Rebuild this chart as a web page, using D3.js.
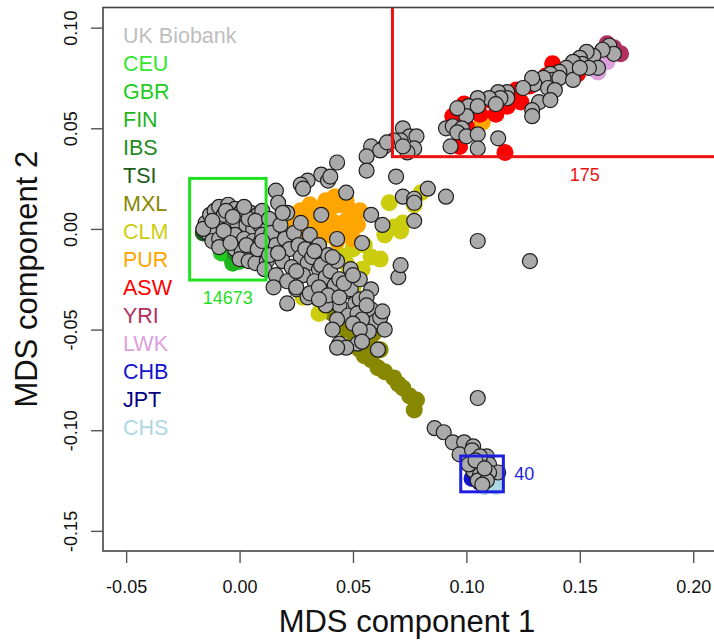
<!DOCTYPE html>
<html>
<head>
    <meta charset="utf-8">
    <style>
        body {
            margin: 0;
            background: white;
        }

        svg {
            font-family: 'Liberation Sans', Arial, sans-serif;
            display: block;
        }
    </style>
    <title>MDS components</title>
</head>

<body>
    <svg width="714" height="641"></svg>
</body>

<script src="https://d3js.org/d3.v7.min.js"></script>
<script>
    // reference panels, [MDS1, MDS2]
    let CEU = [[-0.006, -0.010], [-0.010, -0.004]]
    let GBR = [[-0.004, -0.014], [-0.008, -0.012]]
    let FIN = [[0.000, -0.016], [-0.003, -0.017]]
    let IBS = [[-0.002, -0.012], [0.002, -0.013]]
    let TSI = [[-0.016, -0.002], [0.003, -0.015]]
    let MXL = [[0.035, -0.035], [0.038, -0.040], [0.041, -0.042], [0.044, -0.044], [0.047, -0.045], [0.047, -0.050],
        [0.051, -0.053], [0.053, -0.049], [0.059, -0.052], [0.058, -0.058], [0.055, -0.063], [0.058, -0.065],
        [0.061, -0.069], [0.064, -0.071], [0.068, -0.074], [0.070, -0.077], [0.072, -0.079], [0.075, -0.083],
        [0.078, -0.085], [0.077, -0.090], [0.049, -0.058], [0.053, -0.060], [0.062, -0.060]]
    let CLM = [[0.066, 0.013], [0.072, 0.003], [0.068, 0.001], [0.058, -0.014], [0.050, -0.010], [0.047, -0.017],
        [0.047, -0.024], [0.041, -0.034], [0.080, 0.018], [0.071, -0.001], [0.062, -0.015], [0.054, -0.020],
        [0.040, -0.029], [0.028, -0.034], [0.035, -0.042], [0.050, -0.029], [0.064, -0.003], [0.077, 0.012],
        [0.055, -0.008], [0.044, -0.013]]
    let PUR = [[0.024, 0.007], [0.027, 0.009], [0.031, 0.012], [0.035, 0.008], [0.040, 0.010], [0.044, 0.012],
        [0.049, 0.009], [0.051, 0.007], [0.047, 0.004], [0.042, 0.003], [0.038, 0.002], [0.033, 0.003],
        [0.029, 0.002], [0.027, -0.003], [0.031, -0.005], [0.035, -0.002], [0.040, -0.003], [0.044, -0.001],
        [0.049, 0.000], [0.052, 0.002], [0.053, 0.009], [0.047, 0.014], [0.042, 0.016], [0.038, 0.014],
        [0.032, 0.007], [0.024, 0.002], [0.028, -0.007], [0.035, -0.008], [0.043, -0.006], [0.050, -0.005],
        [0.107, 0.053]]
    let ASW = [[0.094, 0.056], [0.097, 0.041], [0.110, 0.064], [0.122, 0.069], [0.124, 0.063], [0.118, 0.061],
        [0.138, 0.082], [0.149, 0.077], [0.106, 0.057], [0.117, 0.038], [0.100, 0.051], [0.128, 0.071],
        [0.135, 0.076], [0.099, 0.062], [0.113, 0.057]]
    let YRI = [[0.165, 0.090], [0.168, 0.087], [0.162, 0.092], [0.160, 0.086]]
    let LWK = [[0.158, 0.078], [0.155, 0.080], [0.159, 0.082], [0.162, 0.083]]
    let CHB = [[0.1025, -0.124], [0.106, -0.126]]
    let JPT = [[0.108, -0.124], [0.110, -0.126]]
    let CHS = [[0.111, -0.126], [0.113, -0.128], [0.108, -0.128]]

    let ukBiobank = [
        // European cluster
        [-0.015, 0.003], [-0.013, 0.007], [-0.011, 0.009], [-0.009, 0.011], [-0.005, 0.012], [-0.002, 0.010],
        [0.001, 0.009], [0.005, 0.008], [0.008, 0.007], [0.010, 0.009], [-0.014, -0.002], [-0.011, 0.000],
        [-0.008, 0.003], [-0.004, 0.004], [-0.001, 0.003], [0.003, 0.002], [0.006, 0.000], [0.009, 0.002],
        [-0.012, -0.006], [-0.009, -0.005], [-0.005, -0.003], [-0.002, -0.003], [0.002, -0.005], [0.006, -0.006],
        [0.009, -0.007], [-0.009, -0.009], [-0.002, -0.010], [0.001, -0.011], [0.005, -0.011], [0.008, -0.013],
        [0.000, -0.015], [0.004, -0.016], [0.007, -0.017], [-0.016, 0.000], [-0.007, 0.007], [0.004, 0.005],
        [0.010, -0.003], [0.010, -0.010], [0.012, -0.016], [-0.012, 0.004], [-0.006, 0.009], [-0.003, 0.006],
        [0.002, 0.011], [0.007, 0.004], [-0.007, -0.001], [-0.004, -0.007], [0.003, -0.008], [0.008, -0.010],
        // admixed band
        [0.013, 0.005], [0.014, -0.002], [0.016, -0.008], [0.013, -0.013], [0.018, 0.002], [0.020, -0.005],
        [0.022, -0.010], [0.019, -0.016], [0.024, -0.002], [0.026, -0.008], [0.027, -0.014], [0.023, -0.019],
        [0.029, -0.010], [0.030, -0.017], [0.028, -0.023], [0.032, -0.014], [0.035, -0.020], [0.033, -0.026],
        [0.036, -0.018], [0.038, -0.024], [0.035, -0.030], [0.040, -0.021], [0.042, -0.028], [0.040, -0.034],
        [0.044, -0.025], [0.047, -0.031], [0.044, -0.038], [0.049, -0.030], [0.051, -0.037], [0.048, -0.043],
        [0.053, -0.035], [0.055, -0.041], [0.052, -0.046], [0.058, -0.040], [0.060, -0.046], [0.057, -0.051],
        [0.062, -0.044], [0.064, -0.050], [0.010, -0.006], [0.011, -0.020], [0.016, -0.023], [0.021, -0.026],
        [0.025, -0.030], [0.030, -0.034], [0.038, -0.038], [0.021, 0.008], [0.027, 0.003], [0.031, -0.003],
        [0.035, -0.008], [0.039, -0.013], [0.043, -0.016], [0.049, -0.020], [0.053, -0.025], [0.058, -0.030],
        [0.015, -0.029], [0.021, -0.037], [0.025, -0.029], [0.031, -0.032], [0.035, -0.029], [0.039, -0.033],
        [0.044, -0.034], [0.035, -0.035], [0.043, -0.045], [0.041, -0.050], [0.052, -0.042], [0.054, -0.045],
        [0.056, -0.034], [0.063, -0.041], [0.050, -0.047], [0.053, -0.050], [0.052, -0.057], [0.044, -0.057],
        [0.047, -0.059], [0.043, -0.059], [0.054, -0.056], [0.061, -0.060], [0.017, -0.012], [0.025, -0.021],
        [0.033, -0.011], [0.046, -0.027], [0.056, -0.038],
        // African arm
        [0.163, 0.091], [0.165, 0.087], [0.160, 0.089], [0.156, 0.086], [0.153, 0.088], [0.150, 0.085],
        [0.151, 0.082], [0.147, 0.083], [0.144, 0.080], [0.158, 0.080], [0.154, 0.080], [0.141, 0.078],
        [0.137, 0.077], [0.138, 0.074], [0.134, 0.075], [0.141, 0.075], [0.147, 0.074], [0.130, 0.072],
        [0.129, 0.075], [0.136, 0.070], [0.139, 0.069], [0.125, 0.070], [0.118, 0.068], [0.114, 0.068],
        [0.118, 0.065], [0.115, 0.065], [0.110, 0.065], [0.105, 0.065], [0.101, 0.061], [0.105, 0.061],
        [0.100, 0.056], [0.096, 0.060], [0.113, 0.062], [0.132, 0.063], [0.137, 0.064], [0.129, 0.059],
        [0.129, 0.056], [0.091, 0.050], [0.094, 0.051], [0.098, 0.050], [0.096, 0.048], [0.100, 0.046],
        [0.105, 0.047], [0.093, 0.041], [0.105, 0.040], [0.114, 0.045], [0.150, 0.080],
        [0.072, 0.050], [0.075, 0.046], [0.078, 0.046], [0.071, 0.044], [0.077, 0.040], [0.074, 0.038],
        [0.064, 0.041], [0.068, 0.044], [0.072, 0.041], [0.069, 0.026], [0.083, 0.020], [0.072, 0.016],
        [0.077, 0.015], [0.091, 0.016],
        [0.058, 0.041], [0.062, 0.039], [0.065, 0.043], [0.056, 0.036], [0.056, 0.029], [0.043, 0.033],
        [0.036, 0.027], [0.030, 0.024], [0.027, 0.022], [0.028, 0.020], [0.039, 0.024], [0.040, 0.026],
        [0.047, 0.018], [0.077, 0.013], [0.016, 0.019], [0.017, 0.013], [0.019, 0.008],
        // scattered
        [0.036, 0.007], [0.058, 0.007], [0.063, 0.002], [0.077, 0.004], [0.043, -0.005], [0.054, -0.007],
        [0.041, -0.014], [0.050, -0.023], [0.070, -0.024], [0.105, -0.006], [0.128, -0.016], [0.071, -0.018],
        // East Asian arm
        [0.105, -0.084], [0.086, -0.099], [0.090, -0.101], [0.094, -0.106], [0.099, -0.106], [0.103, -0.108],
        [0.097, -0.112], [0.109, -0.113], [0.110, -0.117], [0.114, -0.121], [0.103, -0.120], [0.106, -0.122],
        [0.110, -0.121], [0.105, -0.125], [0.109, -0.125], [0.107, -0.127], [0.1025, -0.110], [0.106, -0.113],
        [0.101, -0.117], [0.104, -0.115], [0.108, -0.119]
    ]

    let groupNames = ['CEU', 'GBR', 'FIN', 'IBS', 'TSI', 'MXL', 'CLM', 'PUR', 'ASW', 'YRI', 'LWK', 'CHB', 'JPT', 'CHS']
    let groupColors = ['#33e633', '#22cc22', '#1fb51f', '#228b22', '#1a5e1a', '#878700', '#cdcd10', '#ffa500',
        '#ff0000', '#b03060', '#dda0dd', '#1414cd', '#000080', '#add8e6']
    let groupPoints = [CEU, GBR, FIN, IBS, TSI, MXL, CLM, PUR, ASW, YRI, LWK, CHB, JPT, CHS]

    // boxes: [x1, x2, y1, y2], count label
    let boxes = [
        { x: [-0.022, 0.0117], y: [-0.0254, 0.0251], label: '14673', color: '#1fe01f', pos: 'below' },
        { x: [0.0674, 0.237], y: [0.0359, 0.125], label: '175', color: '#ee1111', pos: 'below' },
        { x: [0.0975, 0.1163], y: [-0.1306, -0.1128], label: '40', color: '#1f1fe0', pos: 'right' }
    ]

    let xTicks = [-0.05, 0.00, 0.05, 0.10, 0.15, 0.20]
    let yTicks = [-0.15, -0.10, -0.05, 0.00, 0.05, 0.10]

    let svg = d3.select('svg')
    let plotLeft = 103, plotRight = 720, plotTop = 7.5, plotBottom = 551

    let x = d3.scaleLinear().domain([-0.0602, 0.2118]).range([plotLeft, plotRight])
    let y = d3.scaleLinear().domain([-0.1600, 0.1100]).range([plotBottom, plotTop])

    svg.append('clipPath')
        .attr('id', 'plot-clip')
        .append('rect')
        .attr('x', plotLeft).attr('y', plotTop)
        .attr('width', plotRight - plotLeft).attr('height', plotBottom - plotTop)

    let plot = svg.append('g').attr('clip-path', 'url(#plot-clip)')

    groupPoints.forEach((pts, i) => {
        plot.append('g')
            .selectAll('circle')
            .data(pts)
            .join('circle')
            .attr('cx', d => x(d[0]))
            .attr('cy', d => y(d[1]))
            .attr('r', 8.5)
            .attr('fill', groupColors[i])
    })

    plot.append('g')
        .selectAll('circle')
        .data(ukBiobank)
        .join('circle')
        .attr('cx', d => x(d[0]))
        .attr('cy', d => y(d[1]))
        .attr('r', 7.5)
        .attr('fill', '#aaaaaa')
        .attr('stroke', '#1e1e1e')
        .attr('stroke-width', 1.2)

    boxes.forEach(b => {
        plot.append('rect')
            .attr('x', x(b.x[0]))
            .attr('y', y(b.y[1]))
            .attr('width', x(b.x[1]) - x(b.x[0]))
            .attr('height', y(b.y[0]) - y(b.y[1]))
            .attr('fill', 'none')
            .attr('stroke', b.color)
            .attr('stroke-width', 3)

        let t = svg.append('text')
            .attr('fill', b.color)
            .attr('font-size', 18)
            .text(b.label)
        if (b.pos == 'below') {
            t.attr('x', x((b.x[0] + b.x[1]) / 2))
                .attr('y', y(b.y[0]) + 24)
                .attr('text-anchor', 'middle')
        } else {
            t.attr('x', x(b.x[1]) + 11)
                .attr('y', (y(b.y[0]) + y(b.y[1])) / 2 + 6)
        }
    })

    // frame
    svg.append('rect')
        .attr('x', plotLeft).attr('y', plotTop)
        .attr('width', plotRight - plotLeft).attr('height', plotBottom - plotTop)
        .attr('fill', 'none')
        .attr('stroke', '#444')
        .attr('stroke-width', 1.6)

    let xAxis = svg.append('g')
        .attr('transform', `translate(0,${plotBottom})`)
        .call(d3.axisBottom(x).tickValues(xTicks).tickSize(12).tickFormat(d => d.toFixed(2)))
    xAxis.select('.domain').remove()
    xAxis.selectAll('line').attr('stroke', '#555').attr('stroke-width', 1.4)
    xAxis.selectAll('text')
        .attr('y', 42).attr('dy', 0)
        .attr('font-size', 18)
        .attr('font-family', "'Liberation Sans', Arial, sans-serif")
        .attr('fill', '#111')

    let yAxis = svg.append('g')
        .attr('transform', `translate(${plotLeft},0)`)
        .call(d3.axisLeft(y).tickValues(yTicks).tickSize(12).tickFormat(d => d.toFixed(2)))
    yAxis.select('.domain').remove()
    yAxis.selectAll('line').attr('stroke', '#555').attr('stroke-width', 1.4)
    yAxis.selectAll('text')
        .attr('x', 0).attr('y', 0).attr('dy', 0)
        .attr('text-anchor', 'middle')
        .attr('transform', 'translate(-26,0) rotate(-90)')
        .attr('font-size', 18)
        .attr('font-family', "'Liberation Sans', Arial, sans-serif")
        .attr('fill', '#111')

    svg.append('text')
        .attr('x', 407).attr('y', 632)
        .attr('text-anchor', 'middle')
        .attr('font-size', 31)
        .attr('fill', '#111')
        .text('MDS component 1')

    svg.append('text')
        .attr('transform', `translate(37,${(plotTop + plotBottom) / 2}) rotate(-90)`)
        .attr('text-anchor', 'middle')
        .attr('font-size', 31)
        .attr('fill', '#111')
        .text('MDS component 2')

    // legend
    let legendNames = ['UK Biobank'].concat(groupNames)
    let legendColors = ['#bebebe'].concat(groupColors)
    svg.append('g')
        .selectAll('text')
        .data(legendNames)
        .join('text')
        .attr('x', 123)
        .attr('y', (d, i) => 43 + i * 28)
        .attr('font-size', 21.5)
        .attr('fill', (d, i) => legendColors[i])
        .text(d => d)
</script>
</html>
